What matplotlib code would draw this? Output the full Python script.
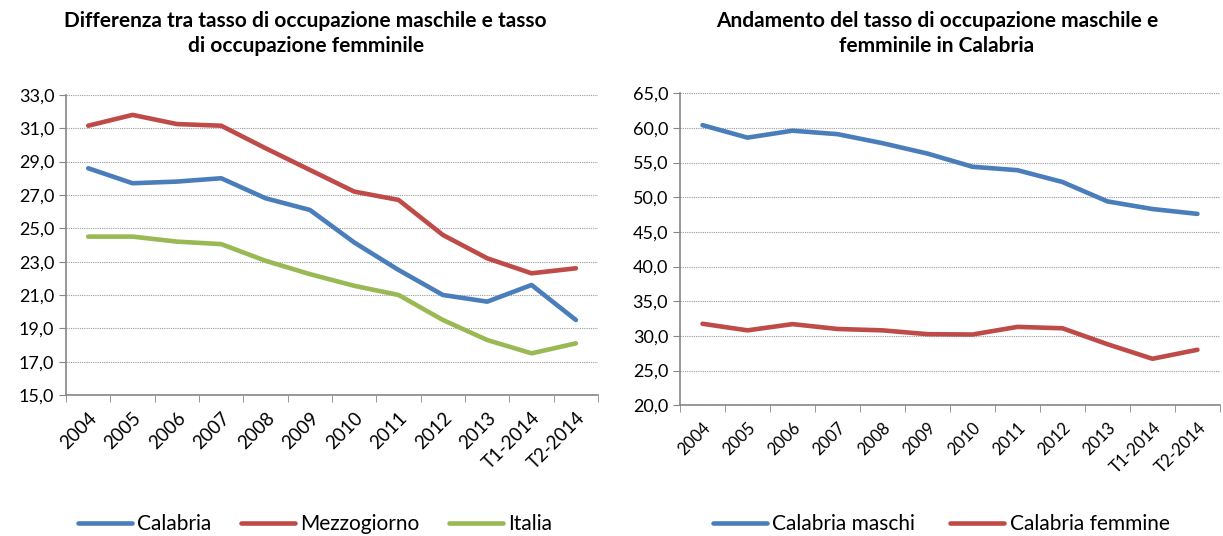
import numpy as np
import matplotlib.pyplot as plt
from matplotlib.ticker import FuncFormatter, FixedLocator

plt.rcParams['font.family'] = ['Lato', 'DejaVu Sans']

periods = ['2004', '2005', '2006', '2007', '2008', '2009', '2010', '2011',
           '2012', '2013', 'T1-2014', 'T2-2014']

# differenza tasso occupazione M - F
calabria = [28.6, 27.7, 27.8, 28.0, 26.8, 26.1, 24.15, 22.5, 21.0, 20.6, 21.6, 19.5]
mezzogiorno = [31.15, 31.8, 31.25, 31.15, 29.8, 28.5, 27.2, 26.7, 24.6, 23.2, 22.3, 22.6]
italia = [24.5, 24.5, 24.2, 24.05, 23.05, 22.25, 21.55, 21.0, 19.5, 18.3, 17.5, 18.1]

# tasso occupazione Calabria
maschi = [60.4, 58.6, 59.6, 59.1, 57.8, 56.3, 54.4, 53.9, 52.2, 49.4, 48.3, 47.6]
femmine = [31.75, 30.8, 31.7, 31.0, 30.8, 30.25, 30.2, 31.3, 31.1, 28.8, 26.7, 28.0]

blue = '#4a7ebb'
red = '#be4b48'
green = '#98b954'
gray = '#868686'

fig = plt.figure(figsize=(12.23, 5.36), dpi=100)
ax1 = fig.add_axes([0.054, 0.263, 0.435, 0.56])
ax2 = fig.add_axes([0.556, 0.244, 0.4415, 0.582])

comma = FuncFormatter(lambda v, p: f'{v:.1f}'.replace('.', ','))
x = np.arange(len(periods))


def style(ax, ymin, ymax, step, xsize):
    ax.set_xlim(-0.5, len(periods) - 0.5)
    ax.set_ylim(ymin, ymax)
    ax.set_yticks(np.arange(ymin, ymax + 0.01, step))
    ax.yaxis.set_major_formatter(comma)
    ax.set_xticks(x)
    ax.set_xticklabels(periods, rotation=45, ha='right', rotation_mode='anchor',
                       fontsize=xsize)
    ax.xaxis.set_minor_locator(FixedLocator(np.arange(-0.5, len(periods), 1)))
    ax.tick_params(axis='x', which='major', length=0, pad=10)
    ax.tick_params(axis='x', which='minor', length=5, color=gray)
    ax.tick_params(axis='y', length=5, color=gray, labelsize=13)
    ax.grid(axis='y', color='#999999', linestyle=(0, (1, 1)), linewidth=0.8)
    for s in ['top', 'right']:
        ax.spines[s].set_visible(False)
    for s in ['left', 'bottom']:
        ax.spines[s].set_color(gray)
        ax.spines[s].set_linewidth(1.2)
    ax.set_axisbelow(True)


leg_kw = dict(loc='center', ncol=3, frameon=False, fontsize=15,
              handlelength=2.6, handletextpad=0.25, borderaxespad=0)

kw = dict(lw=3.3, solid_capstyle='round', solid_joinstyle='round')
l1 = ax1.plot(x, calabria, color=blue, label='Calabria', **kw)
l2 = ax1.plot(x, mezzogiorno, color=red, label='Mezzogiorno', **kw)
l3 = ax1.plot(x, italia, color=green, label='Italia', **kw)
style(ax1, 15, 33, 2, 13.5)
fig.text(0.25, 0.937, 'Differenza tra tasso di occupazione maschile e tasso\ndi occupazione femminile',
         ha='center', va='center', fontsize=15, fontweight='bold', linespacing=1.3)
fig.legend(handles=l1 + l2 + l3, bbox_to_anchor=(315 / 1223, 0.022),
           columnspacing=1.4, **leg_kw)

m1 = ax2.plot(x, maschi, color=blue, label='Calabria maschi', **kw)
m2 = ax2.plot(x, femmine, color=red, label='Calabria femmine', **kw)
style(ax2, 20, 65, 5, 12)
fig.text(0.766, 0.937, 'Andamento del tasso di occupazione maschile e\nfemminile in Calabria',
         ha='center', va='center', fontsize=15, fontweight='bold', linespacing=1.3)
fig.legend(handles=m1 + m2, bbox_to_anchor=(941 / 1223, 0.022),
           columnspacing=1.7, **leg_kw)

fig.savefig('out.png', dpi=100)
